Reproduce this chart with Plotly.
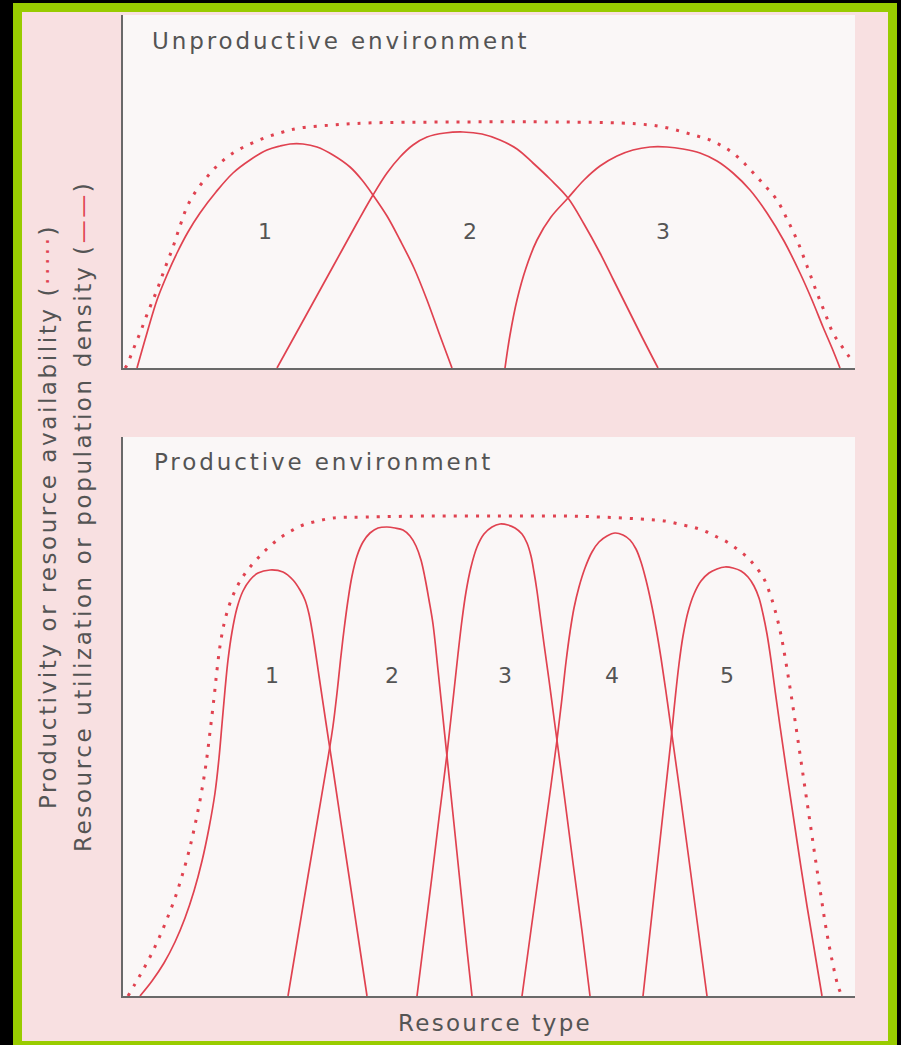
import plotly.graph_objects as go

# ---- data: resource type (x) vs abundance (y), same units in both panels ----
# unproductive environment
top_supply_x = [0.2, 0.4, 1.0, 1.7, 2.5, 3.4, 4.2, 5.0, 5.7, 6.4, 7.3, 8.4, 9.6, 11.0, 12.7, 14.4,
                16.0, 17.7, 21.0, 24.4, 32.7, 43.7, 49.7, 52.7, 54.5, 56.0, 57.4, 58.7, 59.9,
                61.0, 62.2, 63.4, 64.4, 65.4, 66.4, 67.4, 68.4, 69.4, 70.2, 71.0, 72.0, 73.0]
top_supply_y = [0, 0.3, 1.8, 3.5, 5.6, 7.8, 10.0, 12.1, 14.2, 16.1, 17.7, 19.1, 20.4, 21.5, 22.4,
                23.1, 23.6, 24.0, 24.3, 24.5, 24.6, 24.6, 24.5, 24.3, 24.0, 23.6, 23.2, 22.8,
                22.2, 21.5, 20.4, 19.1, 18.0, 16.8, 14.9, 12.8, 10.2, 7.5, 5.5, 3.5, 2.0, 0.6]

top_sp1_x = [1.4, 2.4, 3.4, 4.4, 5.4, 6.5, 7.7, 9.3, 11.0, 12.7, 14.4, 15.7, 16.7, 18.0, 19.4,
             21.0, 22.7, 23.9, 25.0, 26.4, 27.7, 29.1, 30.4, 31.6, 32.9]
top_sp1_y = [0, 3.5, 6.8, 9.3, 11.5, 13.6, 15.5, 17.6, 19.5, 20.8, 21.8, 22.2, 22.4, 22.4, 22.1,
             21.3, 20.1, 18.8, 17.3, 15.2, 12.8, 10.0, 6.8, 3.5, 0]
top_sp2_x = [15.4, 17.0, 18.6, 20.2, 21.8, 23.4, 25.0, 26.4, 27.7, 29.0, 30.4, 32.2, 34.0, 35.9,
             37.7, 39.4, 41.0, 42.7, 44.5, 46.1, 47.7, 49.0, 50.4, 51.9, 53.5]
top_sp2_y = [0, 2.9, 5.8, 8.7, 11.6, 14.5, 17.3, 19.5, 21.1, 22.3, 23.1, 23.5, 23.6, 23.4, 22.8,
             21.9, 20.5, 18.9, 17.0, 14.4, 11.5, 8.9, 6.1, 3.1, 0]
top_sp3_x = [38.2, 38.7, 39.4, 40.3, 41.4, 42.8, 44.5, 46.1, 47.7, 49.4, 51.0, 52.7, 54.4, 56.0,
             57.7, 59.4, 61.0, 62.7, 64.4, 66.1, 67.7, 68.9, 70.0, 70.9, 71.7]
top_sp3_y = [0, 3.3, 6.8, 10.0, 12.8, 15.1, 17.0, 18.8, 20.2, 21.2, 21.8, 22.1, 22.1, 21.9, 21.5,
             20.7, 19.5, 17.8, 15.5, 12.7, 9.5, 6.8, 4.1, 2.0, 0]

top_labels = ["1", "2", "3"]
top_label_x = [14.2, 34.7, 54.0]
top_label_y = [13.5, 13.5, 13.5]

# productive environment
bot_supply_x = [0.5, 1.2, 2.0, 2.8, 3.6, 4.4, 5.2, 5.9, 6.6, 7.2, 7.8, 8.3, 8.7, 9.1, 9.4, 9.7,
                10.1, 10.6, 11.2, 11.9, 12.7, 13.6, 14.6, 15.7, 16.8, 18.0, 19.5, 21.0, 24.4,
                30.7, 37.7, 43.7, 47.7, 51.7, 54.2, 56.0, 57.3, 58.4, 59.4, 60.4, 61.4, 62.4,
                63.2, 64.0, 64.6, 65.2, 65.8, 66.3, 66.8, 67.3, 67.8, 68.3, 68.8, 69.3, 69.8,
                70.3, 70.9, 71.5, 71.9]
bot_supply_y = [0, 1.2, 2.6, 4.1, 5.8, 7.7, 9.8, 12.0, 14.5, 17.1, 20.1, 23.2, 26.4, 29.8, 32.6,
                35.0, 37.2, 39.0, 40.5, 41.8, 42.9, 43.9, 44.9, 45.8, 46.5, 47.1, 47.5, 47.8,
                47.9, 48.0, 48.0, 48.0, 47.9, 47.7, 47.5, 47.1, 46.8, 46.4, 45.9, 45.4, 44.7,
                43.9, 43.0, 41.9, 40.5, 38.6, 36.1, 33.3, 30.2, 26.9, 23.5, 20.1, 16.7, 13.3,
                10.0, 6.8, 3.6, 1.0, 0]

bot_sp1_x = [1.7, 2.9, 4.1, 5.2, 6.2, 7.1, 7.9, 8.6, 9.2, 9.6, 9.9, 10.2, 10.5, 10.9, 11.4, 12.0,
             12.7, 13.5, 14.7, 16.0, 17.0, 17.7, 18.2, 18.6, 19.0, 19.6, 20.3, 21.0, 21.8, 22.6,
             23.5, 24.4]
bot_sp1_y = [0, 1.5, 3.3, 5.4, 7.8, 10.5, 13.5, 16.8, 20.3, 23.8, 27.2, 30.6, 33.6, 36.4, 38.8,
             40.5, 41.6, 42.3, 42.6, 42.4, 41.6, 40.6, 39.6, 38.2, 36.0, 32.0, 27.3, 22.7, 17.3,
             12.0, 6.0, 0]
bot_sp2_x = [16.5, 17.5, 18.5, 19.5, 20.5, 21.0, 21.4, 21.75, 22.1, 22.5, 22.9, 23.4, 24.0, 24.7,
             25.5, 26.4, 27.2, 28.0, 28.7, 29.3, 29.8, 30.2, 30.6, 31.0, 31.5, 32.0, 32.5, 33.1,
             33.8, 34.4, 34.9]
bot_sp2_y = [0, 6.0, 12.0, 17.9, 23.8, 27.0, 30.3, 33.6, 36.6, 39.6, 42.0, 44.0, 45.4, 46.3,
             46.8, 46.9, 46.8, 46.6, 46.0, 45.0, 43.6, 41.8, 39.6, 37.2, 32.6, 27.8, 23.0, 17.2,
             10.4, 4.6, 0]
bot_sp3_x = [29.4, 30.1, 30.9, 31.6, 32.4, 33.0, 33.5, 33.9, 34.3, 34.8, 35.4, 36.1, 36.9, 37.7,
             38.5, 39.2, 39.9, 40.4, 40.8, 41.1, 41.4, 41.7, 42.1, 42.6, 43.1, 43.5, 44.2, 45.0,
             45.9, 46.7]
bot_sp3_y = [0, 5.6, 12.0, 17.8, 24.2, 29.6, 34.2, 37.6, 40.4, 42.9, 44.9, 46.2, 46.9, 47.2,
             47.1, 46.8, 46.2, 45.3, 44.0, 42.4, 40.5, 38.2, 35.2, 31.6, 27.8, 24.8, 19.5, 13.3,
             6.5, 0]
bot_sp4_x = [39.9, 40.8, 41.7, 42.6, 43.4, 43.9, 44.3, 44.7, 45.1, 45.6, 46.2, 46.9, 47.6, 48.4,
             49.2, 50.0, 50.7, 51.3, 51.8, 52.3, 52.8, 53.3, 53.8, 54.3, 54.8, 55.7, 56.6, 57.5,
             58.4]
bot_sp4_y = [0, 6.6, 13.1, 19.6, 25.6, 29.8, 33.4, 36.4, 38.8, 40.9, 42.8, 44.4, 45.4, 46.0,
             46.3, 46.1, 45.6, 44.7, 43.4, 41.6, 39.4, 36.8, 33.8, 30.4, 26.8, 20.3, 13.6, 6.8, 0]
bot_sp5_x = [52.0, 52.7, 53.4, 54.1, 54.8, 55.2, 55.6, 56.0, 56.5, 57.1, 57.8, 58.6, 59.4, 60.2,
             61.0, 61.8, 62.5, 63.1, 63.6, 64.0, 64.4, 64.8, 65.2, 65.7, 66.5, 67.4, 68.4, 69.2,
             69.9]
bot_sp5_y = [0, 6.4, 12.8, 19.2, 25.6, 29.6, 33.2, 36.0, 38.4, 40.2, 41.5, 42.3, 42.7, 42.9,
             42.8, 42.5, 41.9, 41.0, 39.8, 38.2, 36.2, 33.6, 30.6, 27.0, 21.5, 15.5, 9.0, 4.2, 0]

bot_labels = ["1", "2", "3", "4", "5"]
bot_label_x = [14.9, 26.9, 38.2, 48.9, 60.4]
bot_label_y = [31.9, 31.9, 31.9, 31.9, 31.9]

RED = "rgb(224,66,80)"
GREY = "rgb(84,84,84)"
FONT = "DejaVu Sans"
W, H = 901, 1045


def spaced(txt, px=2.6):
    return "<span style='letter-spacing:%.1fpx'>%s</span>" % (px, txt)


fig = go.Figure()

panels = [
    ("x", "y", top_supply_x, top_supply_y,
     [(top_sp1_x, top_sp1_y), (top_sp2_x, top_sp2_y), (top_sp3_x, top_sp3_y)],
     top_labels, top_label_x, top_label_y),
    ("x2", "y2", bot_supply_x, bot_supply_y,
     [(bot_sp1_x, bot_sp1_y), (bot_sp2_x, bot_sp2_y), (bot_sp3_x, bot_sp3_y),
      (bot_sp4_x, bot_sp4_y), (bot_sp5_x, bot_sp5_y)],
     bot_labels, bot_label_x, bot_label_y),
]

for xa, ya, sx, sy, species, labs, lx, ly in panels:
    # resource availability (dotted)
    fig.add_trace(go.Scatter(x=sx, y=sy, xaxis=xa, yaxis=ya, mode="lines",
                             line=dict(color=RED, width=3, dash="3px,8px",
                                       shape="spline", smoothing=1),
                             showlegend=False, hoverinfo="skip"))
    # species utilisation curves
    for cx, cy in species:
        fig.add_trace(go.Scatter(x=cx, y=cy, xaxis=xa, yaxis=ya, mode="lines",
                                 line=dict(color=RED, width=1.7, shape="spline", smoothing=1),
                                 showlegend=False, hoverinfo="skip"))
    fig.add_trace(go.Scatter(x=lx, y=ly, xaxis=xa, yaxis=ya, mode="text", text=labs,
                             textfont=dict(family=FONT, size=22, color=GREY),
                             showlegend=False, hoverinfo="skip"))

axis_style = dict(showgrid=False, zeroline=False, showticklabels=False, ticks="",
                  showline=True, linecolor="rgb(105,105,105)", linewidth=2, fixedrange=True)
xdom = [123 / W, 855 / W]

fig.update_layout(
    width=W, height=H, autosize=False,
    margin=dict(l=0, r=0, t=0, b=0),
    paper_bgcolor="black", plot_bgcolor="rgba(0,0,0,0)",
    xaxis=dict(domain=xdom, anchor="y", range=[0, 73.2], **axis_style),
    yaxis=dict(domain=[1 - 368 / H, 1 - 15 / H], anchor="x", range=[0, 35.3], **axis_style),
    xaxis2=dict(domain=xdom, anchor="y2", range=[0, 73.2], **axis_style),
    yaxis2=dict(domain=[1 - 996 / H, 1 - 437 / H], anchor="x2", range=[0, 55.9], **axis_style),
    shapes=[
        dict(type="rect", xref="paper", yref="paper", x0=13 / W, x1=897 / W, y0=-0.01,
             y1=1 - 3 / H, fillcolor="rgb(153,204,0)", line_width=0, layer="below"),
        dict(type="rect", xref="paper", yref="paper", x0=22 / W, x1=888 / W, y0=1 - 1041 / H,
             y1=1 - 12 / H, fillcolor="rgb(248,224,225)", line_width=0, layer="below"),
        dict(type="rect", xref="x domain", yref="y domain", x0=0, x1=1, y0=0, y1=1,
             fillcolor="rgb(250,247,247)", line_width=0, layer="below"),
        dict(type="rect", xref="x2 domain", yref="y2 domain", x0=0, x1=1, y0=0, y1=1,
             fillcolor="rgb(250,247,247)", line_width=0, layer="below"),
    ],
)

txt = dict(family=FONT, size=23, color=GREY)
fig.add_annotation(x=150 / W, y=1 - 41 / H, xref="paper", yref="paper", showarrow=False,
                   xanchor="left", yanchor="middle",
                   text=spaced("Unproductive environment", 2.9), font=txt)
fig.add_annotation(x=152 / W, y=1 - 462 / H, xref="paper", yref="paper", showarrow=False,
                   xanchor="left", yanchor="middle",
                   text=spaced("Productive environment", 2.9), font=txt)
fig.add_annotation(x=495 / W, y=1 - 1023 / H, xref="paper", yref="paper", showarrow=False,
                   xanchor="center", yanchor="middle", text=spaced("Resource type", 2.3),
                   font=txt)
fig.add_annotation(x=48 / W, y=1 - 517 / H, xref="paper", yref="paper", showarrow=False,
                   textangle=-90, xanchor="center", yanchor="middle",
                   text=spaced("Productivity or resource availability (<span style='color:"
                               + RED + "'>·····</span>)"),
                   font=txt)
fig.add_annotation(x=83 / W, y=1 - 517 / H, xref="paper", yref="paper", showarrow=False,
                   textangle=-90, xanchor="center", yanchor="middle",
                   text=spaced("Resource utilization or population density (<span style='color:"
                               + RED + "'>——</span>)"),
                   font=txt)

fig.write_html("out.html", config={"displayModeBar": False},
               post_script="document.body.style.margin='0';"
                           "document.body.style.background='black';")
